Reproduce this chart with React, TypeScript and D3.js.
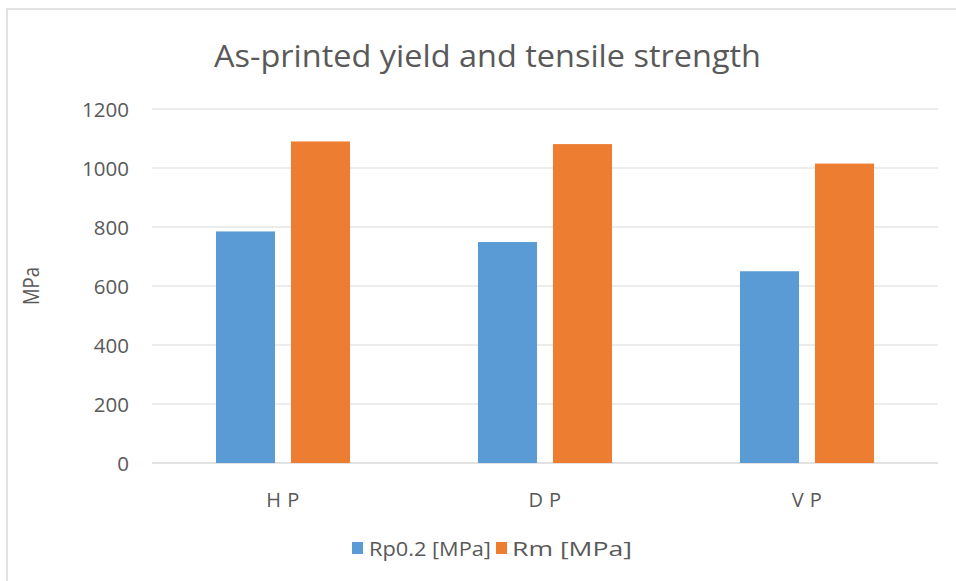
import React from "react";
import * as d3 from "d3";

const categories = ["H P", "D P", "V P"];
const seriesNames = ["Rp0.2 [MPa]", "Rm [MPa]"];
const rpValues = [785, 749, 650];
const rmValues = [1090, 1081, 1015];
const yTicks = [0, 200, 400, 600, 800, 1000, 1200];

const colors = ["#5B9BD5", "#ED7D31"];
const textColor = "#595959";
const gridColor = "#D9D9D9";
const font = "'Open Sans', 'Liberation Sans', sans-serif";

const W = 956;
const H = 581;
const plot = { left: 152, right: 938, top: 109, bottom: 463 };

export default function App() {
  const series = [rpValues, rmValues];

  const x0 = d3
    .scaleBand<string>()
    .domain(categories)
    .range([plot.left, plot.right])
    .paddingInner(0)
    .paddingOuter(0);

  const x1 = d3
    .scaleBand<string>()
    .domain(seriesNames)
    .range([0, x0.bandwidth()])
    .paddingInner(0.213)
    .paddingOuter(0.853);

  const y = d3.scaleLinear().domain([0, 1200]).range([plot.bottom, plot.top]);

  return (
    <svg
      width={W}
      height={H}
      style={{ position: "absolute", left: 0, top: 0, display: "block", background: "#fff" }}
      fontFamily={font}
    >
      <rect x={7} y={9} width={W + 20} height={H + 20} fill="#fff" stroke={gridColor} strokeWidth={1.5} />

      <text
        x={487.5}
        y={67}
        textAnchor="middle"
        fontSize={31}
        fill={textColor}
        textLength={547}
        lengthAdjust="spacingAndGlyphs"
      >
        As-printed yield and tensile strength
      </text>

      {yTicks.map((t) => (
        <g key={t}>
          <line
            x1={plot.left}
            x2={plot.right}
            y1={y(t)}
            y2={y(t)}
            stroke={gridColor}
            strokeWidth={t === 0 ? 1.5 : 1.2}
          />
          <text x={129} y={y(t) + 7.5} textAnchor="end" fontSize={20.5} fill={textColor}>
            {t}
          </text>
        </g>
      ))}

      <text
        transform={`translate(39, 286) rotate(-90)`}
        textAnchor="middle"
        fontSize={22}
        fill={textColor}
        textLength={38}
        lengthAdjust="spacingAndGlyphs"
      >
        MPa
      </text>

      {categories.map((c, i) => (
        <g key={c} transform={`translate(${x0(c)}, 0)`}>
          {seriesNames.map((s, j) => (
            <rect
              key={s}
              x={x1(s)}
              y={y(series[j][i])}
              width={x1.bandwidth()}
              height={plot.bottom - y(series[j][i])}
              fill={colors[j]}
            />
          ))}
          <text
            x={x0.bandwidth() / 2}
            y={507}
            textAnchor="middle"
            fontSize={20}
            letterSpacing={0.5}
            fill={textColor}
          >
            {c}
          </text>
        </g>
      ))}

      <g>
        <rect x={352} y={542} width={11} height={12} fill={colors[0]} />
        <text x={369} y={556} fontSize={20} fill={textColor} textLength={122} lengthAdjust="spacingAndGlyphs">
          {seriesNames[0]}
        </text>
        <rect x={496} y={542} width={11} height={12} fill={colors[1]} />
        <text x={512} y={556} fontSize={20} fill={textColor} textLength={120} lengthAdjust="spacingAndGlyphs">
          {seriesNames[1]}
        </text>
      </g>
    </svg>
  );
}
